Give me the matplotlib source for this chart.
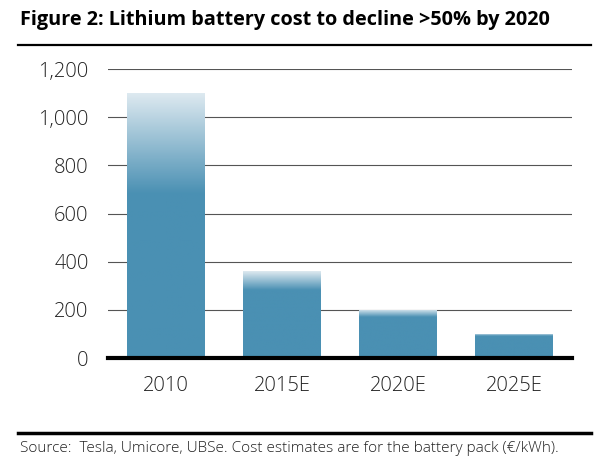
import numpy as np
import matplotlib
matplotlib.use("Agg")
import matplotlib.pyplot as plt
from matplotlib.colors import LinearSegmentedColormap

categories = ["2010", "2015E", "2020E", "2025E"]
costs = [1100, 360, 200, 100]
yticks = [0, 200, 400, 600, 800, 1000, 1200]
ytick_labels = ["0", "200", "400", "600", "800", "1,000", "1,200"]

title = "Figure 2: Lithium battery cost to decline >50% by 2020"
source = "Source:  Tesla, Umicore, UBSe. Cost estimates are for the battery pack (\u20ac/kWh)."

plt.rcParams["font.family"] = ["Open Sans", "DejaVu Sans"]

fig = plt.figure(figsize=(5.98, 4.68), dpi=100)
ax = fig.add_axes([108 / 598, 1 - 358 / 468, 464 / 598, 289 / 468])

x = np.arange(len(categories))
bars = ax.bar(x, costs, width=0.67, color="#4a90b3", zorder=2)

# light fade at the top of each bar
fade = LinearSegmentedColormap.from_list("fade", ["#4a90b3", "#dde9f0"])
for b, v in zip(bars, costs):
    frac = 0.38 * (v / max(costs)) ** 0.5
    pos = np.linspace(0, 1, 256)
    grad = np.clip((pos - (1 - frac)) / frac, 0, 1)[:, None]
    x0, y0 = b.get_x(), b.get_y()
    im = ax.imshow(grad, extent=[x0, x0 + b.get_width(), y0, y0 + b.get_height()],
                   origin="lower", aspect="auto", zorder=3, cmap=fade,
                   vmin=0, vmax=1)
    im.set_clip_path(b)

ax.set_xlim(-0.5, len(categories) - 0.5)
ax.set_ylim(0, 1200)
ax.set_yticks(yticks)
ax.set_yticklabels(ytick_labels)
ax.set_xticks(x)
ax.set_xticklabels(categories)
ax.tick_params(axis="both", length=0, labelsize=14.5, colors="#222222")
ax.tick_params(axis="y", pad=14)
ax.tick_params(axis="x", pad=13)
for lab in ax.get_xticklabels() + ax.get_yticklabels():
    lab.set_fontweight("light")
for s in ax.spines.values():
    s.set_visible(False)
ax.grid(axis="y", color="#555555", linewidth=0.8, zorder=1)
ax.set_axisbelow(True)
ax.axhline(0, color="black", linewidth=3, zorder=4, clip_on=False)

fig.text(20 / 598, 1 - 20 / 468, title, fontsize=14.3, fontweight="bold",
         va="center", ha="left", color="black")
fig.add_artist(plt.Line2D([18 / 598, 591 / 598], [1 - 45 / 468] * 2,
                          color="black", linewidth=1.6))
fig.add_artist(plt.Line2D([18 / 598, 591 / 598], [1 - 433 / 468] * 2,
                          color="black", linewidth=2.5))
fig.text(20 / 598, 1 - 449 / 468, source, fontsize=11.1, va="center", ha="left",
         color="#222222", fontweight="light")

fig.savefig("out.png", dpi=100)
